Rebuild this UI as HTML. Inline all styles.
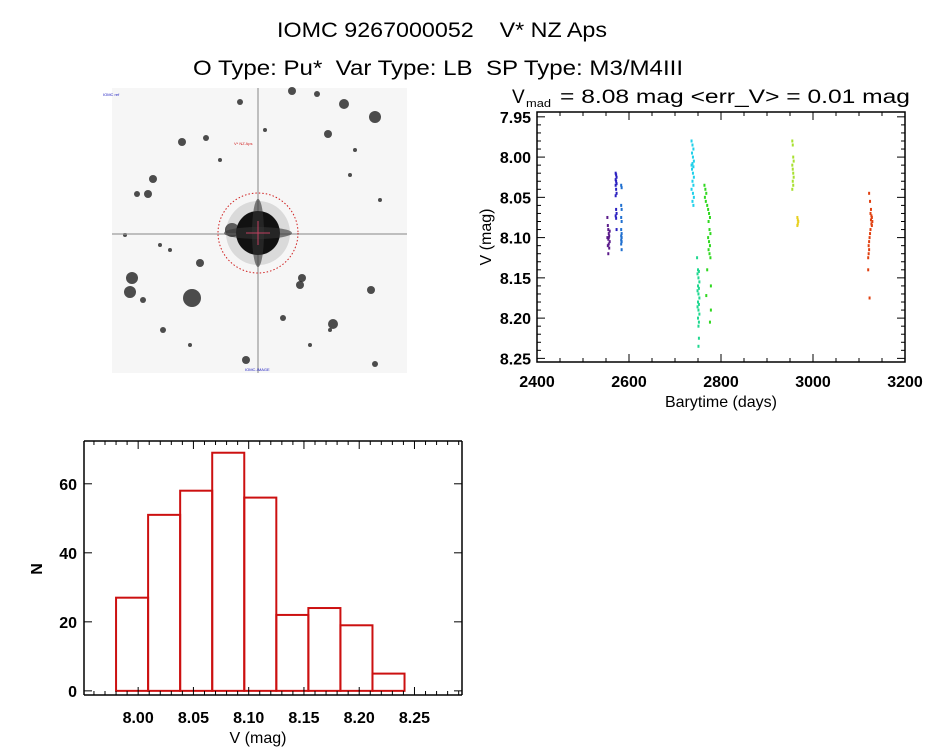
<!DOCTYPE html>
<html><head><meta charset="utf-8"><style>
body{margin:0;background:#fff;}
svg text{font-family:"Liberation Sans",sans-serif;fill:#000;white-space:pre;}
</style></head><body>
<svg id="root" width="944" height="747" viewBox="0 0 944 747" xmlns="http://www.w3.org/2000/svg">
<rect width="944" height="747" fill="#fff"/>
<text x="277" y="37" font-size="21" textLength="330" lengthAdjust="spacingAndGlyphs">IOMC 9267000052    V* NZ Aps</text>
<text x="193" y="75" font-size="21" textLength="490" lengthAdjust="spacingAndGlyphs">O Type: Pu*  Var Type: LB  SP Type: M3/M4III</text>

<g>
  <rect x="112" y="88" width="295" height="285" fill="#f6f6f6"/>
  <g id="stars"></g>
  <line x1="112" y1="234" x2="407" y2="234" stroke="#999" stroke-width="2" opacity="0.6"/>
  <line x1="258" y1="88" x2="258" y2="373" stroke="#999" stroke-width="2" opacity="0.6"/>
  <circle cx="258" cy="233" r="32" fill="#888" opacity="0.25"/>
  <circle cx="258" cy="233" r="22" fill="#111"/>
  <ellipse cx="258" cy="233" rx="34" ry="6" fill="#333" opacity="0.6"/>
  <ellipse cx="258" cy="233" rx="6" ry="34" fill="#333" opacity="0.6"/>
  <circle cx="258" cy="233" r="40" fill="none" stroke="#d02020" stroke-width="1" stroke-dasharray="1.5,2"/>
  <line x1="246" y1="233" x2="270" y2="233" stroke="#c04060" stroke-width="1"/>
  <line x1="258" y1="221" x2="258" y2="245" stroke="#c04060" stroke-width="1"/>
  <text x="234" y="145" font-size="4" style="fill:#d02020">V* NZ Aps</text>
  <text x="103" y="96" font-size="4" style="fill:#2020c0">IOMC ref</text>
  <text x="245" y="371" font-size="4" style="fill:#2020c0">IOMC-IMAGE</text>
</g>

<g id="lc"></g>
<g id="hist"></g>
</svg>
<script>
const NS="http://www.w3.org/2000/svg";
function mk(tag,attrs,parent){const e=document.createElementNS(NS,tag);for(const k in attrs)e.setAttribute(k,attrs[k]);parent.appendChild(e);return e;}

// star field (decorative)
const starX=[375,344,192,132,130,153,148,137,182,333,371,302,300,200,283,328,246,375,206,240,317,292,232,163,143,380,220,160,265,350,330,310,190,170,125,355];
const starY=[117,104,298,278,292,179,194,194,142,324,290,278,285,263,318,134,360,364,138,102,94,91,230,330,300,200,160,245,130,175,330,345,345,250,235,150];
const starR=[6,5,9,6,6,4,4,3,4,5,4,4,4,4,3,4,4,3,3,3,3,4,7,3,3,2,2,2,2,2,2,2,2,2,2,2];
const sg=document.getElementById('stars');
for(let i=0;i<starX.length;i++){
  const c=mk('circle',{cx:starX[i],cy:starY[i],r:starR[i],fill:'#222',opacity:0.8},sg);
  
  
}

// ---------- light curve ----------
const lcXTicks=[2400,2600,2800,3000,3200];
const lcYTicks=[7.95,8.00,8.05,8.10,8.15,8.20,8.25];
const lcYLabels=["7.95","8.00","8.05","8.10","8.15","8.20","8.25"];
const lcColors=["#5a1a8a","#2a20c0","#2070d0","#20d0ea","#20d890","#30d820","#a8e030","#e8d020","#e04010"];
const lcT=[
 [2553,2554,2555,2556,2557,2553,2555,2558,2556,2554,2557,2555,2558,2556],
 [2571,2572,2573,2571,2572,2573,2571,2572,2573,2571,2572,2573,2571,2572,2573],
 [2583,2584,2583,2584,2583,2584,2583,2584,2583,2584,2583,2584,2583,2584],
 [2736,2738,2740,2737,2739,2741,2738,2736,2740,2737,2739,2741,2738,2740,2736,2739,2741,2738,2740],
 [2748,2750,2752,2749,2751,2753,2750,2752,2749,2751,2753,2750,2752,2749,2751,2753,2750,2752,2751,2752,2751],
 [2764,2766,2768,2765,2767,2770,2772,2774,2776,2773,2775,2777,2772,2774,2776,2773,2775,2777,2770,2778,2768,2778,2776],
 [2955,2956,2957,2958,2955,2956,2957,2958,2956,2957,2955],
 [2966,2967,2968,2967,2966],
 [3122,3124,3126,3125,3127,3128,3126,3129,3127,3128,3125,3124,3123,3122,3121,3122,3121,3120,3120,3123]
];
const lcV=[
 [8.075,8.085,8.09,8.095,8.098,8.10,8.102,8.105,8.108,8.11,8.113,8.12,8.092,8.10],
 [8.02,8.022,8.025,8.028,8.03,8.033,8.035,8.04,8.045,8.048,8.065,8.07,8.073,8.076,8.09],
 [8.035,8.038,8.06,8.065,8.075,8.08,8.09,8.095,8.098,8.10,8.103,8.105,8.108,8.115],
 [7.98,7.985,7.99,7.995,8.0,8.005,8.008,8.01,8.012,8.015,8.02,8.025,8.03,8.035,8.04,8.045,8.05,8.055,8.06],
 [8.125,8.14,8.142,8.145,8.15,8.155,8.16,8.163,8.166,8.17,8.175,8.18,8.183,8.186,8.19,8.195,8.20,8.205,8.21,8.225,8.235],
 [8.035,8.04,8.045,8.05,8.055,8.06,8.065,8.07,8.075,8.08,8.09,8.095,8.10,8.105,8.11,8.115,8.12,8.125,8.14,8.16,8.172,8.19,8.205],
 [7.98,7.985,8.0,8.005,8.01,8.015,8.02,8.025,8.03,8.035,8.04],
 [8.075,8.078,8.08,8.083,8.085],
 [8.045,8.055,8.065,8.07,8.073,8.075,8.078,8.08,8.083,8.085,8.09,8.095,8.10,8.105,8.11,8.115,8.12,8.125,8.14,8.175]
];
(function(){
  const g=document.getElementById('lc');
  const L=537,R=905,T=112,B=362, x0=2400,x1=3200, y0=7.944,y1=8.2545;
  const xs=t=>L+(t-x0)/(x1-x0)*(R-L);
  const ys=v=>T+(v-y0)/(y1-y0)*(B-T);
  const ta=mk('text',{x:512,y:103,'font-size':19},g);ta.textContent='V';
  
  
  const tb=mk('text',{x:526,y:107,'font-size':11,textLength:25,lengthAdjust:'spacingAndGlyphs'},g);tb.textContent='mad';
  
  
  const tc=mk('text',{x:560,y:103,'font-size':19,textLength:350,lengthAdjust:'spacingAndGlyphs'},g);tc.textContent='= 8.08 mag <err_V> = 0.01 mag';
  
  
  for(let s=0;s<lcT.length;s++){
    for(let i=0;i<lcT[s].length;i++){
      const p=mk('rect',{x:xs(lcT[s][i])-1,y:ys(lcV[s][i])-1.5,width:2,height:3,fill:lcColors[s]},g);
      
      
    }
  }
  const fr=mk('rect',{x:L,y:T,width:R-L,height:B-T,fill:'none',stroke:'#000','stroke-width':1.5},g);
  
  
  for(let t=x0;t<=x1;t+=50){
    const len=(t%200===0)?8:4;
    mk('line',{x1:xs(t),y1:B,x2:xs(t),y2:B-len,stroke:'#000'},g);
    mk('line',{x1:xs(t),y1:T,x2:xs(t),y2:T+len,stroke:'#000'},g);
  }
  lcXTicks.forEach(t=>{
    const e=mk('text',{x:xs(t),y:387,'font-size':16,'text-anchor':'middle','font-weight':'bold'},g);e.textContent=t;
    
    
  });
  for(let k=0;k<=30;k++){
    const v=7.95+k*0.01, y=ys(v); const len=(k%5===0)?8:4;
    mk('line',{x1:L,y1:y,x2:L+len,y2:y,stroke:'#000'},g);
    mk('line',{x1:R,y1:y,x2:R-len,y2:y,stroke:'#000'},g);
  }
  lcYTicks.forEach((v,i)=>{
    const e=mk('text',{x:531,y:ys(v)+6,'font-size':16,'text-anchor':'end','font-weight':'bold'},g);e.textContent=lcYLabels[i];
    
    
  });
  const xl=mk('text',{x:721,y:407,'font-size':16,'text-anchor':'middle'},g);xl.textContent='Barytime (days)';
  
  
  const yl=mk('text',{x:0,y:0,'font-size':16,'text-anchor':'middle',transform:'translate(491,237) rotate(-90)'},g);yl.textContent='V (mag)';
  
  
})();

// ---------- histogram ----------
const histStart=7.980;
const histWidth=0.029;
const histCounts=[27,51,58,69,56,22,24,19,5];
const histXTicks=[8.00,8.05,8.10,8.15,8.20,8.25];
const histXLabels=["8.00","8.05","8.10","8.15","8.20","8.25"];
const histYTicks=[0,20,40,60];
(function(){
  const g=document.getElementById('hist');
  const L=84,R=462,T=441,B=695, x0=7.951,x1=8.293, y0=-1.2,y1=72.4;
  const xs=v=>L+(v-x0)/(x1-x0)*(R-L);
  const ys=n=>B-(n-y0)/(y1-y0)*(B-T);
  histCounts.forEach((n,i)=>{
    const a=xs(histStart+i*histWidth), b=xs(histStart+(i+1)*histWidth);
    const r=mk('rect',{x:a,y:ys(n),width:b-a,height:ys(0)-ys(n),fill:'none',stroke:'#cc1010','stroke-width':2},g);
    
    
  });
  mk('line',{x1:L,y1:T,x2:R,y2:T,stroke:'#000','stroke-width':1.5},g);
  mk('line',{x1:L,y1:B,x2:R,y2:B,stroke:'#000','stroke-width':1.5},g);
  mk('line',{x1:L,y1:T,x2:L,y2:B,stroke:'#000','stroke-width':1.5},g);
  mk('line',{x1:R,y1:T,x2:R,y2:B,stroke:'#000','stroke-width':1.5},g);
  for(let k=-4;k<=29;k++){
    const v=8.00+k*0.01; if(v<x0||v>x1) continue;
    const len=(k%5===0)?8:4, x=xs(v);
    mk('line',{x1:x,y1:B,x2:x,y2:B-len,stroke:'#000'},g);
    mk('line',{x1:x,y1:T,x2:x,y2:T+len,stroke:'#000'},g);
  }
  histXTicks.forEach((v,i)=>{
    const e=mk('text',{x:xs(v),y:723,'font-size':16,'text-anchor':'middle','font-weight':'bold'},g);e.textContent=histXLabels[i];
    
    
  });
  histYTicks.forEach(n=>{
    const y=ys(n);
    mk('line',{x1:L,y1:y,x2:L+8,y2:y,stroke:'#000'},g);
    mk('line',{x1:R,y1:y,x2:R-8,y2:y,stroke:'#000'},g);
    const e=mk('text',{x:77,y:y+6,'font-size':16,'text-anchor':'end','font-weight':'bold'},g);e.textContent=n;
    
    
  });
  const xl=mk('text',{x:258,y:743,'font-size':16,'text-anchor':'middle'},g);xl.textContent='V (mag)';
  
  
  const yl=mk('text',{x:0,y:0,'font-size':16,'text-anchor':'middle','font-weight':'bold',transform:'translate(42,569) rotate(-90)'},g);yl.textContent='N';
  
  
})();
</script>
</body></html>
